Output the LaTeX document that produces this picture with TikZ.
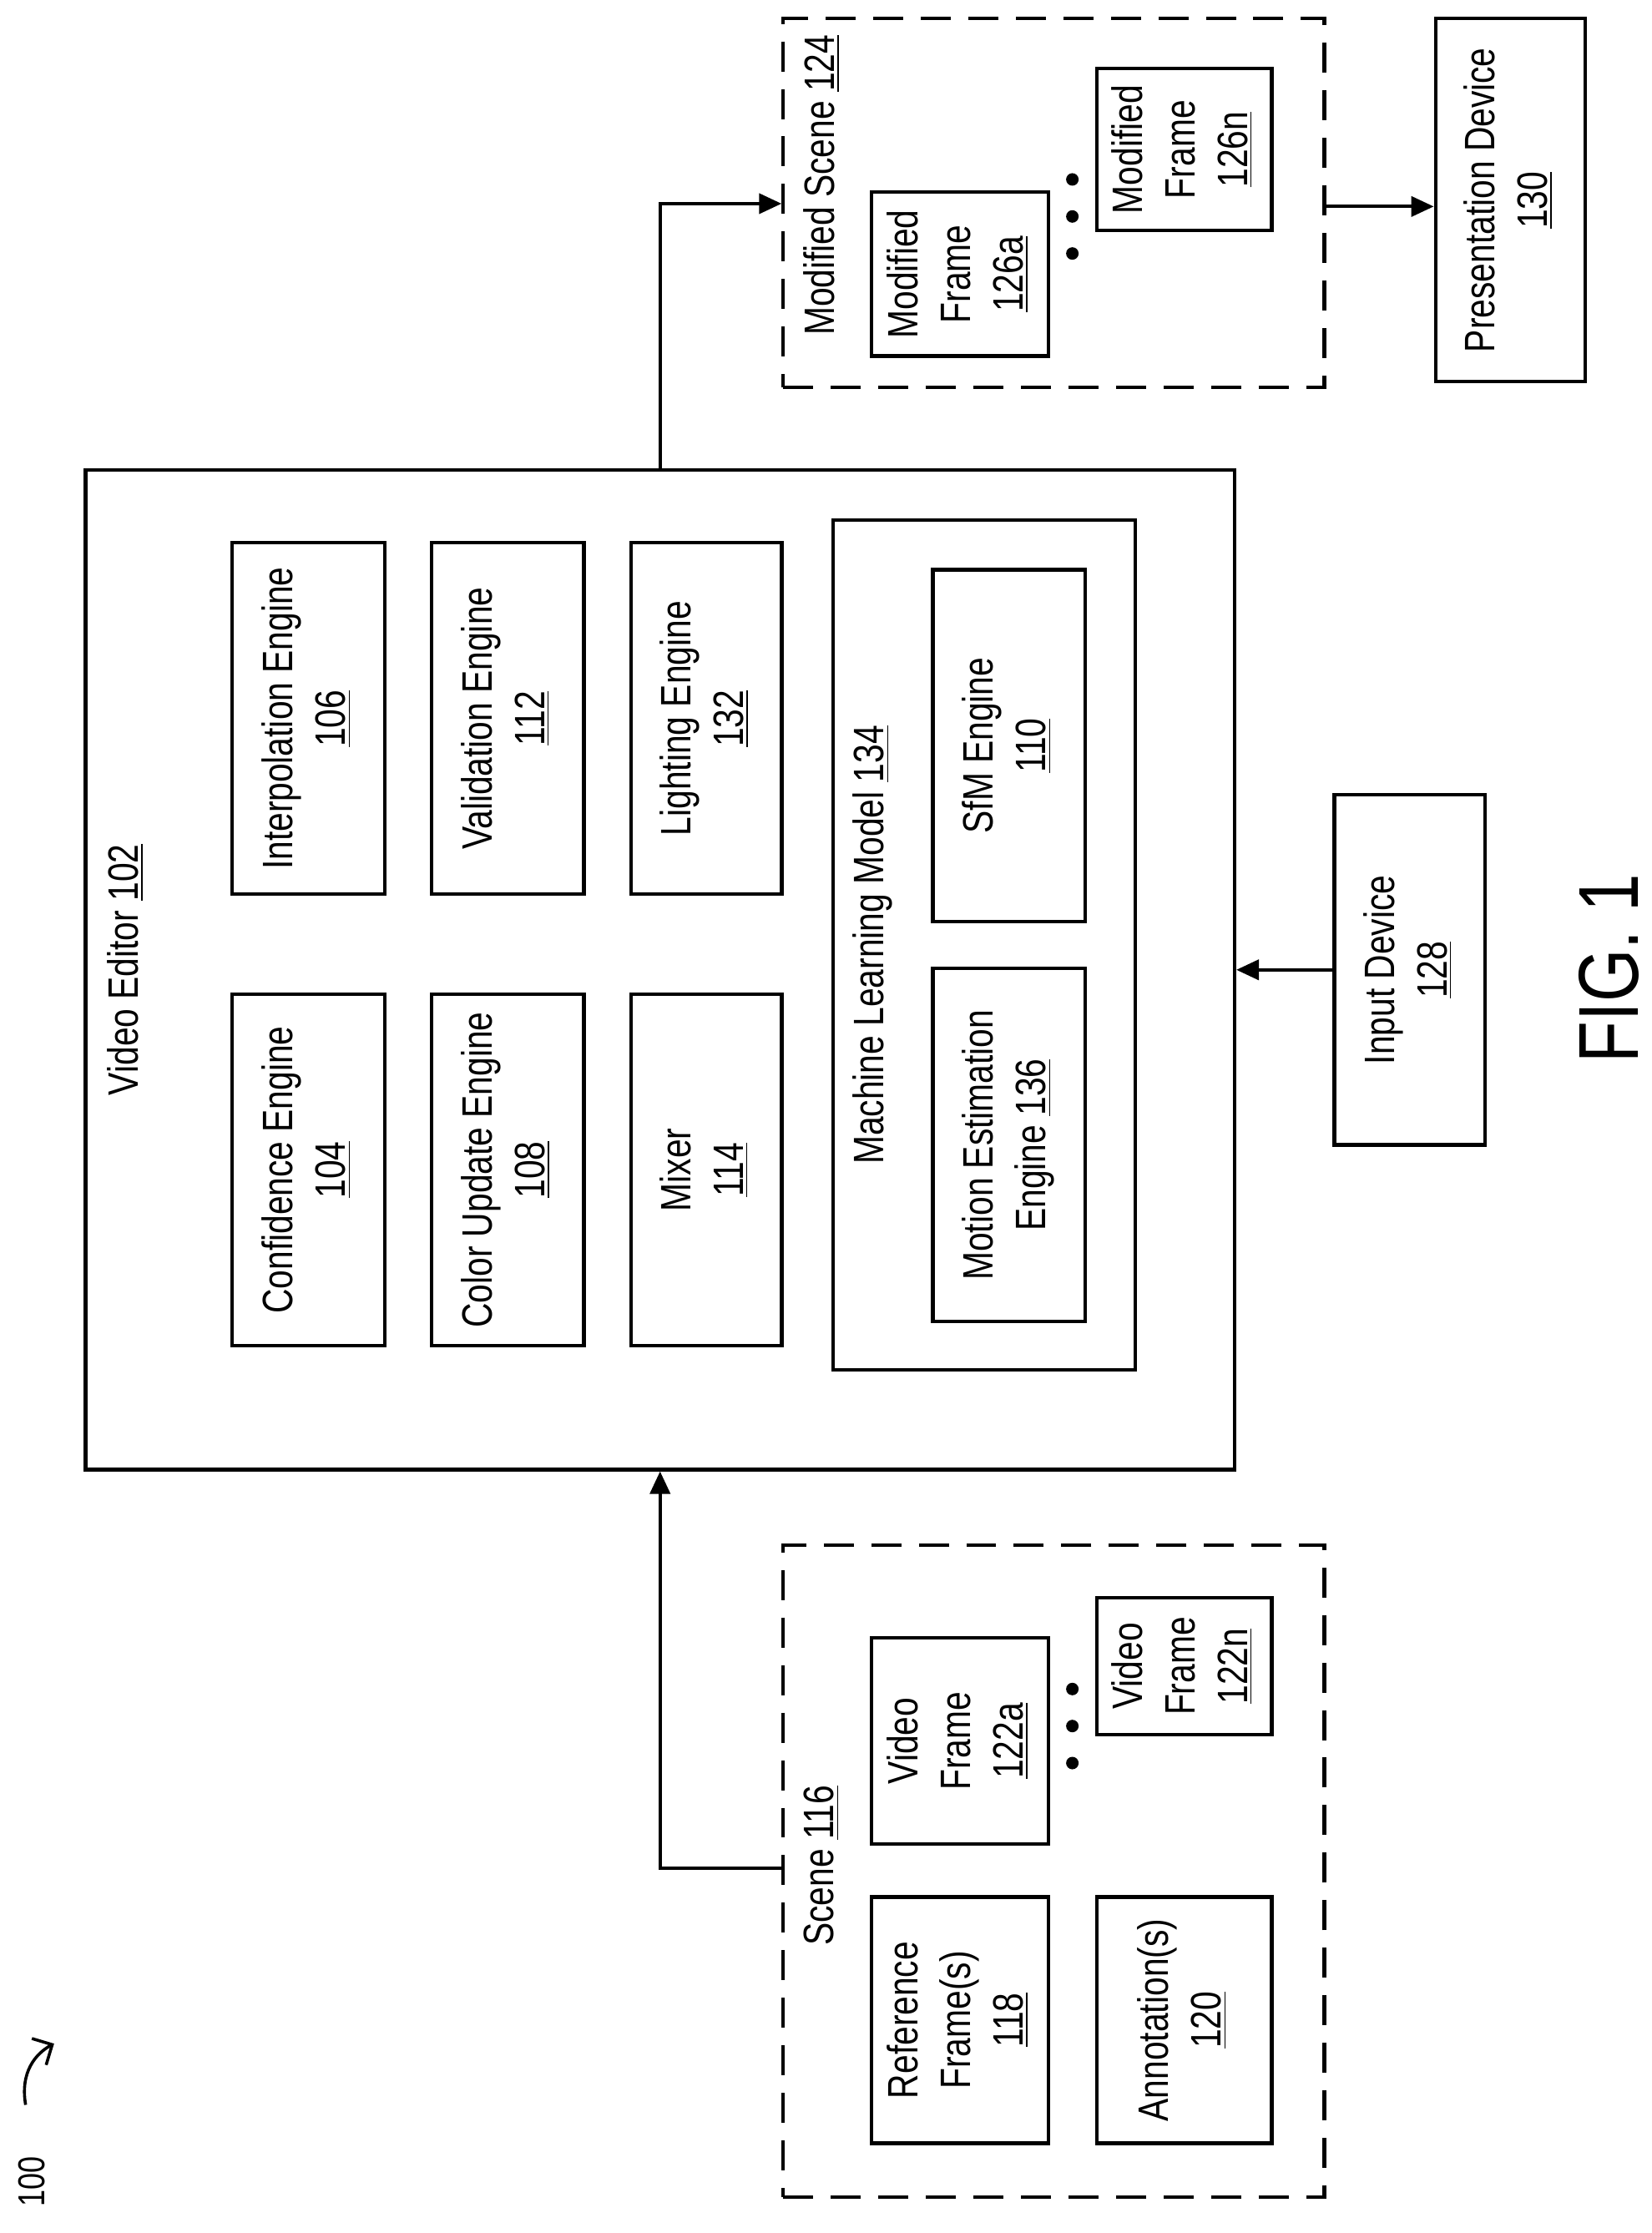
\documentclass[tikz,border=0pt]{standalone}
\usepackage{fontspec}
\setmainfont{Liberation Sans}[FakeStretch=0.8]
\usetikzlibrary{arrows.meta}
\newcommand{\rt}[1]{\rotatebox{90}{\begin{tabular}{@{}c@{}}#1\end{tabular}}}
\begin{document}
\begin{tikzpicture}[x=0.02cm,y=-0.02cm,
  box/.style={draw,line width=1.4pt,inner sep=0pt,font=\fontsize{17}{21}\selectfont},
  dbox/.style={draw,line width=1.4pt,dashed,dash pattern=on 12pt off 7pt,inner sep=0pt},
  lbl/.style={font=\fontsize{17}{21}\selectfont,rotate=90},
  arr/.style={line width=1.4pt,-{Triangle[length=9pt,width=8pt]}},
  dot/.style={fill=black,circle,inner sep=0pt,minimum size=5pt}]
\useasboundingbox (0,0) rectangle (1160,1568);

% video editor
\node[box,minimum width=16.14cm,minimum height=14.04cm] (ve) at (463.5,681) {};
\node[lbl] at (88,681) {Video Editor \underline{102}};
\node[box,minimum width=2.14cm,minimum height=4.94cm] (conf) at (216.5,821.5) {\rt{Confidence Engine\\\underline{104}}};
\node[box,minimum width=2.14cm,minimum height=4.94cm] (interp) at (216.5,504.5) {\rt{Interpolation Engine\\\underline{106}}};
\node[box,minimum width=2.14cm,minimum height=4.94cm] (color) at (356.5,821.5) {\rt{Color Update Engine\\\underline{108}}};
\node[box,minimum width=2.14cm,minimum height=4.94cm] (valid) at (356.5,504.5) {\rt{Validation Engine\\\underline{112}}};
\node[box,minimum width=2.12cm,minimum height=4.94cm] (mixer) at (496,821.5) {\rt{Mixer\\\underline{114}}};
\node[box,minimum width=2.12cm,minimum height=4.94cm] (light) at (496,504.5) {\rt{Lighting Engine\\\underline{132}}};

% machine learning model
\node[box,minimum width=4.24cm,minimum height=11.94cm] (ml) at (691,663.5) {};
\node[lbl] at (613,663.5) {Machine Learning Model \underline{134}};
\node[box,minimum width=2.14cm,minimum height=4.96cm] (motion) at (708.5,804) {\rt{Motion Estimation\\Engine \underline{136}}};
\node[box,minimum width=2.14cm,minimum height=4.94cm] (sfm) at (708.5,523.5) {\rt{SfM Engine\\\underline{110}}};

% scene
\node[dbox,minimum width=7.6cm,minimum height=9.16cm] (scene) at (740,1314) {};
\node[lbl] at (577,1310) {Scene \underline{116}};
\node[box,minimum width=2.48cm,minimum height=3.46cm] (ref) at (674,1418.5) {\rt{Reference\\Frame(s)\\\underline{118}}};
\node[box,minimum width=2.46cm,minimum height=3.46cm] (annot) at (831.5,1418.5) {\rt{Annotation(s)\\\underline{120}}};
\node[box,minimum width=2.48cm,minimum height=2.9cm] (vfa) at (674,1222.5) {\rt{Video\\Frame\\\underline{122a}}};
\node[box,minimum width=2.46cm,minimum height=1.92cm] (vfn) at (831.5,1170) {\rt{Video\\Frame\\\underline{122n}}};
\node[dot] at (753,1186) {};
\node[dot] at (753,1212) {};
\node[dot] at (753,1238) {};

% modified scene
\node[dbox,minimum width=7.6cm,minimum height=5.18cm] (mod) at (740,142.5) {};
\node[lbl] at (577,130) {Modified Scene \underline{124}};
\node[box,minimum width=2.48cm,minimum height=2.3cm] (mfa) at (674,192.5) {\rt{Modified\\Frame\\\underline{126a}}};
\node[box,minimum width=2.46cm,minimum height=2.28cm] (mfn) at (831.5,105) {\rt{Modified\\Frame\\\underline{126n}}};
\node[dot] at (753,126) {};
\node[dot] at (753,152) {};
\node[dot] at (753,178) {};

% devices
\node[box,minimum width=2.1cm,minimum height=5.1cm] (pres) at (1060.5,140.5) {\rt{Presentation Device\\\underline{130}}};
\node[box,minimum width=2.12cm,minimum height=4.92cm] (input) at (990,681) {\rt{Input Device\\\underline{128}}};

% connectors
\draw[arr] (scene.west |- 0,1312) -| (ve.south);
\draw[arr] (ve.north) |- (mod.west |- 0,143);
\draw[arr] (mod.east |- 0,145) -- (pres.west |- 0,145);
\draw[arr] (input.west) -- (ve.east |- input.west);

\node[rotate=90,font=\fontsize{34}{40}\selectfont] at (1130,680) {FIG. 1};
\node[rotate=90,font=\fontsize{15}{18}\selectfont] at (22,1532) {100};
\draw[line width=1.2pt,-{Straight Barb[length=6pt]}] (18,1478) .. controls (14,1455) and (25,1442) .. (38,1435);
\end{tikzpicture}
\end{document}
